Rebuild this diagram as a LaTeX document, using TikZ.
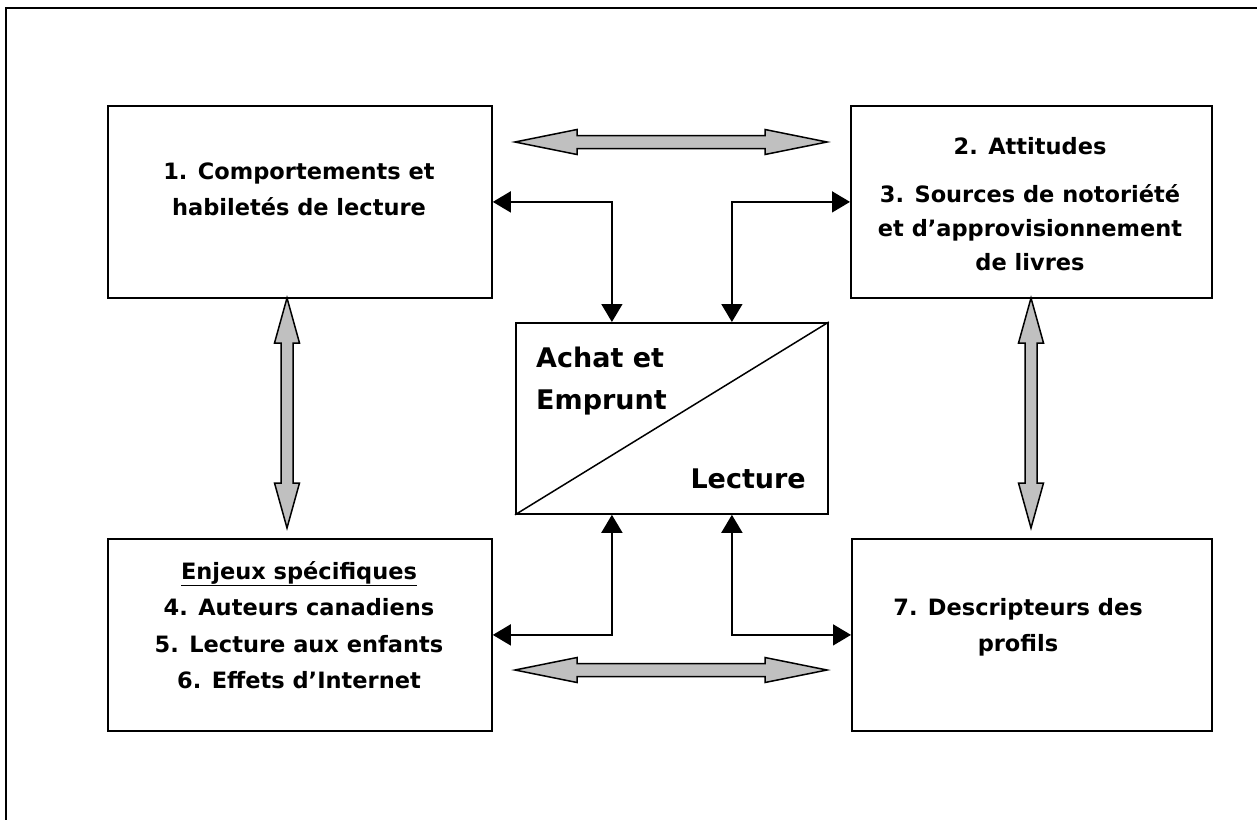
\documentclass[tikz,border=0pt]{standalone}
\usepackage{fontspec}
\setmainfont{DejaVu Sans}
\usetikzlibrary{calc,arrows.meta}
\newcommand\grayH[3]{% start, end, head length
  \draw[garrow] (#1) -- ($(#1)+(#3,12.5)$) -- ($(#1)+(#3,6.5)$) -- ($(#2)+(-#3,6.5)$)
    -- ($(#2)+(-#3,12.5)$) -- (#2) -- ($(#2)+(-#3,-12.5)$) -- ($(#2)+(-#3,-6.5)$)
    -- ($(#1)+(#3,-6.5)$) -- ($(#1)+(#3,-12.5)$) -- cycle;}
\newcommand\grayV[3]{% start (top), end (bottom), head length
  \draw[garrow] (#1) -- ($(#1)+(12.5,#3)$) -- ($(#1)+(6,#3)$) -- ($(#2)+(6,-#3)$)
    -- ($(#2)+(12.5,-#3)$) -- (#2) -- ($(#2)+(-12.5,-#3)$) -- ($(#2)+(-6,-#3)$)
    -- ($(#1)+(-6,#3)$) -- ($(#1)+(-12.5,#3)$) -- cycle;}
\begin{document}
\begin{tikzpicture}[x=1pt,y=-1pt,
  box/.style={draw,line width=1.8pt,rectangle,inner sep=0pt,anchor=north west},
  txt/.style={align=center,inner sep=0pt,font=\bfseries\fontsize{22.5}{36}\selectfont},
  bigtxt/.style={inner sep=0pt,font=\bfseries\fontsize{27}{42}\selectfont},
  conn/.style={line width=1.6pt,{Triangle[length=18pt,width=21pt]}-{Triangle[length=18pt,width=21pt]}},
  garrow/.style={line width=1.5pt,fill=gray75,line join=miter}
]
\definecolor{gray75}{HTML}{C0C0C0}
\useasboundingbox (0,0) rectangle (1257,820);
% frame (top and left edges)
\draw[line width=2.5pt] (1257,8) -- (6,8) -- (6,820);
% boxes
\node[box,minimum width=384pt,minimum height=192pt] (b1) at (107,105) {};
\node[box,minimum width=361pt,minimum height=192pt] (b2) at (850,105) {};
\node[box,minimum width=312pt,minimum height=191pt] (c) at (515,322) {};
\node[box,minimum width=384pt,minimum height=192pt] (b4) at (107,538) {};
\node[box,minimum width=360pt,minimum height=192pt] (b7) at (851,538) {};
\draw[line width=1.5pt] (c.south west) -- (c.north east);
% texts
\node[txt] (t1) at (299,189) {1. Comportements et\\habiletés de lecture};
\node[txt,font=\bfseries\fontsize{22.5}{34}\selectfont] (t2) at (1030,204) {2. Attitudes\\[14pt]3. Sources de notoriété\\et d’approvisionnement\\de livres};
\node[txt,font=\bfseries\fontsize{22.5}{36.5}\selectfont] (t4) at (299,625) {\underline{Enjeux spécifiques}\\4. Auteurs canadiens\\5. Lecture aux enfants\\6. Effets d’Internet};
\node[txt] (t7) at (1018,627) {7. Descripteurs des\\profils};
\node[bigtxt,align=left,anchor=west] (ae) at (536,381) {Achat et\\Emprunt};
\node[bigtxt,anchor=base east] (lec) at (806,488) {Lecture};
% thin connectors
\draw[conn] (b1.east) -| ([xshift=-60pt]c.north);
\draw[conn] (b2.west) -| ([xshift=60pt]c.north);
\draw[conn] (b4.east) -| ([xshift=-60pt]c.south);
\draw[conn] (b7.west) -| ([xshift=60pt]c.south);
% gray double arrows
\coordinate (h1a) at (515,142); \coordinate (h1b) at (827,142);
\coordinate (h2a) at (515,670); \coordinate (h2b) at (827,670);
\coordinate (v1a) at (287,298); \coordinate (v1b) at (287,528);
\coordinate (v2a) at (1031,298); \coordinate (v2b) at (1031,528);
\grayH{h1a}{h1b}{62}
\grayH{h2a}{h2b}{62}
\grayV{v1a}{v1b}{45}
\grayV{v2a}{v2b}{45}
\end{tikzpicture}
\end{document}
